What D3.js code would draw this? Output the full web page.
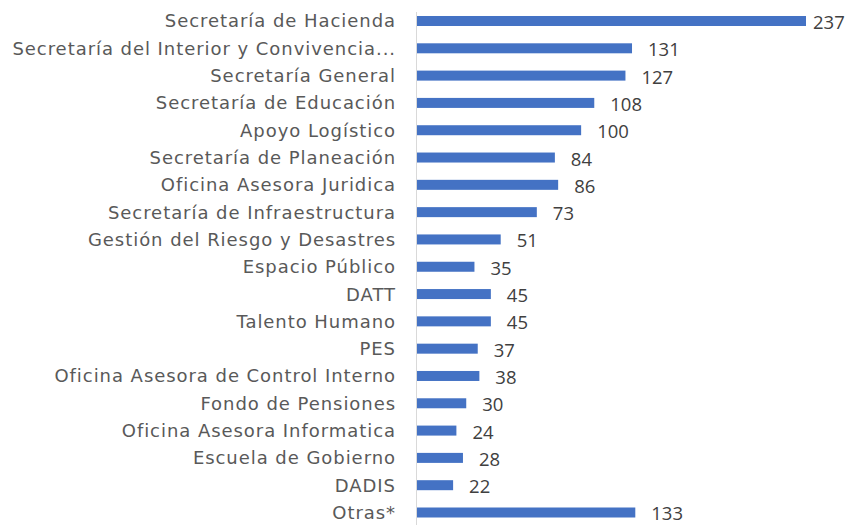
<!DOCTYPE html>
<html>
<head>
<meta charset="utf-8">
<script src="https://cdn.jsdelivr.net/npm/d3@7"></script>
<style>
  body { margin: 0; background: #fff; }
  svg { display: block; }
</style>
</head>
<body>
<svg width="865" height="525"></svg>
<script>
// data
var categories = [
  "Secretaría de Hacienda",
  "Secretaría del Interior y Convivencia...",
  "Secretaría General",
  "Secretaría de Educación",
  "Apoyo Logístico",
  "Secretaría de Planeación",
  "Oficina Asesora Juridica",
  "Secretaría de Infraestructura",
  "Gestión del Riesgo y Desastres",
  "Espacio Público",
  "DATT",
  "Talento Humano",
  "PES",
  "Oficina Asesora de Control Interno",
  "Fondo de Pensiones",
  "Oficina Asesora Informatica",
  "Escuela de Gobierno",
  "DADIS",
  "Otras*"
];
var values = [237, 131, 127, 108, 100, 84, 86, 73, 51, 35, 45, 45, 37, 38, 30, 24, 28, 22, 133];

var data = categories.map((c, i) => ({ name: c, value: values[i] }));

var svg = d3.select('svg');
var w = 865, h = 525;

var x = d3.scaleLinear().domain([0, 237]).range([417, 806]);
var y = d3.scalePoint().domain(categories).range([21, 512.5]);
var barH = 10;

// vertical axis line
svg.append('line')
  .attr('x1', 416.5).attr('x2', 416.5)
  .attr('y1', 12).attr('y2', h)
  .attr('stroke', '#d9d9d9')
  .attr('stroke-width', 1);

// bars
svg.append('g').selectAll('rect')
  .data(data)
  .enter().append('rect')
    .attr('x', x(0))
    .attr('y', d => y(d.name) - barH / 2)
    .attr('width', d => x(d.value) - x(0))
    .attr('height', barH)
    .attr('fill', '#4472c4');

// category labels
svg.append('g').selectAll('text')
  .data(data)
  .enter().append('text')
    .attr('x', 396)
    .attr('y', d => y(d.name))
    .attr('dy', '0.36em')
    .attr('text-anchor', 'end')
    .attr('fill', '#595959')
    .style('font-family', '"DejaVu Sans", sans-serif')
    .style('font-size', '18px')
    .style('letter-spacing', '0.95px')
    .text(d => d.name);

// value labels
svg.append('g').selectAll('text')
  .data(data)
  .enter().append('text')
    .attr('x', d => Math.min(x(d.value) + 16, 813))
    .attr('y', d => y(d.name) + 1.5)
    .attr('dy', '0.35em')
    .attr('fill', '#404040')
    .style('font-family', '"Open Sans", sans-serif')
    .style('font-size', '18.5px')
    .text(d => d.value);
</script>
</body>
</html>
